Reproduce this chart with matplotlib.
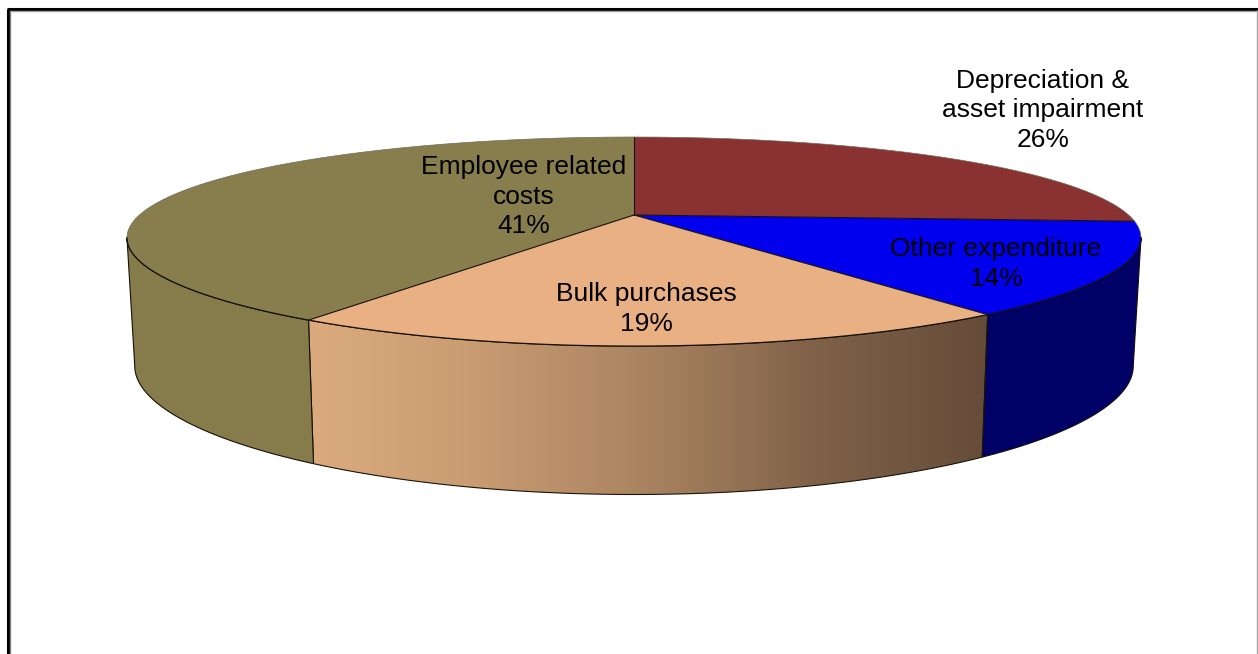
import numpy as np
import matplotlib
matplotlib.use("Agg")
import matplotlib.pyplot as plt
from matplotlib.colors import LinearSegmentedColormap
from matplotlib.patches import Polygon

plt.rcParams["font.family"] = ["Liberation Sans", "DejaVu Sans"]

# Chart data, clockwise from twelve o'clock
categories = ["Depreciation &\nasset impairment", "Other expenditure",
              "Bulk purchases", "Employee related\ncosts"]
shares = [26, 14, 19, 41]

top_colors = ["#8A3232", "#0000EE", "#E8B083", "#887D4C"]
side_colors = ["#5A2020", "#000066", None, "#867B4A"]
label_centres = [(1043, 110.5), (996, 264), (646, 309), (524, 196.5)]

W, H = 1258, 654
CX = 634
# Perspective parameters of the tilted disc
KY, KX = 0.254, 0.22
TOP = dict(y0=215.0, ay=97.8, bx=494.6)
BOTTOM = dict(y0=339.0, ay=116.0, bx=487.0)


def disc_xy(theta, y0, ay, bx):
    """Project clockwise angles on the disc rim to pixel positions."""
    u, v = np.sin(theta), np.cos(theta)
    return CX + bx * u / (1 + KX * v), y0 - ay * v / (1 + KY * v)


def rim(a0, a1, level):
    theta = np.linspace(a0, a1, max(int(np.degrees(a1 - a0)) * 2, 2))
    return np.column_stack(disc_xy(theta, **level))


fig = plt.figure(figsize=(W / 100, H / 100), dpi=100, facecolor="white")
ax = fig.add_axes([0, 0, 1, 1])
ax.axis("off")

edges = 2 * np.pi * np.concatenate([[0], np.cumsum(shares)]) / np.sum(shares)
vis0 = np.arccos(-KX)
vis1 = 2 * np.pi - vis0

shade = LinearSegmentedColormap.from_list(
    "bulk_side", ["#DBAB7E", "#C89B72", "#A98360", "#7F6148", "#654C39"])

# Side wall of each slice, only where it faces the viewer
for i in range(len(shares)):
    a0, a1 = max(edges[i], vis0), min(edges[i + 1], vis1)
    if a1 <= a0:
        continue
    pts = np.vstack([rim(a0, a1, TOP), rim(a0, a1, BOTTOM)[::-1]])
    if side_colors[i] is None:
        poly = Polygon(pts, closed=True, facecolor="none", edgecolor="none")
        ax.add_patch(poly)
        img = ax.imshow(np.linspace(0, 1, 256)[None, :], cmap=shade, aspect="auto",
                        extent=(pts[:, 0].min(), pts[:, 0].max(), pts[:, 1].max(), pts[:, 1].min()),
                        zorder=1)
        img.set_clip_path(poly)
        ax.add_patch(Polygon(pts, closed=True, facecolor="none",
                             edgecolor="#1a1208", linewidth=0.8, zorder=2))
    else:
        ax.add_patch(Polygon(pts, closed=True, facecolor=side_colors[i],
                             edgecolor="#141008", linewidth=0.8, zorder=2))

# Top face of each slice, then its spokes and rim
hub = (CX, TOP["y0"])
for i in range(len(shares)):
    pts = np.vstack([[hub], rim(edges[i], edges[i + 1], TOP)])
    ax.add_patch(Polygon(pts, closed=True, facecolor=top_colors[i],
                         edgecolor="none", zorder=3))
for a in edges[:-1]:
    x, y = disc_xy(np.array([a]), **TOP)
    ax.plot([hub[0], x[0]], [hub[1], y[0]], color="#15110a", lw=0.8, zorder=4)
front = rim(vis0, vis1, TOP)
ax.plot(front[:, 0], front[:, 1], color="#15110a", lw=0.9, zorder=4)
back = rim(vis1, vis0 + 2 * np.pi, TOP)
ax.plot(back[:, 0], back[:, 1], color="#6f6f60", lw=0.5, zorder=4)

for name, share, (x, y) in zip(categories, shares, label_centres):
    ax.text(x, y, f"{name}\n{share}%", ha="center", va="center", fontsize=19.0,
            color="black", linespacing=1.31, zorder=5)

# Window frame: heavy black top and left, thin grey inner and right rules
ax.plot([8, 8], [H, 8.5], color="black", lw=2.2, solid_capstyle="butt", zorder=6)
ax.plot([7, W], [9, 9], color="black", lw=2.2, solid_capstyle="butt", zorder=6)
ax.plot([10, 10], [H, 10.5], color="#808080", lw=1.0, solid_capstyle="butt", zorder=6)
ax.plot([10, W - 1], [11, 11], color="#A0A0A0", lw=1.0, solid_capstyle="butt", zorder=6)
ax.plot([1257, 1257], [10, H], color="#A6A6A6", lw=1.0, solid_capstyle="butt", zorder=6)

ax.set_xlim(0, W)
ax.set_ylim(H, 0)
fig.savefig("out.png", dpi=100, facecolor="white")
